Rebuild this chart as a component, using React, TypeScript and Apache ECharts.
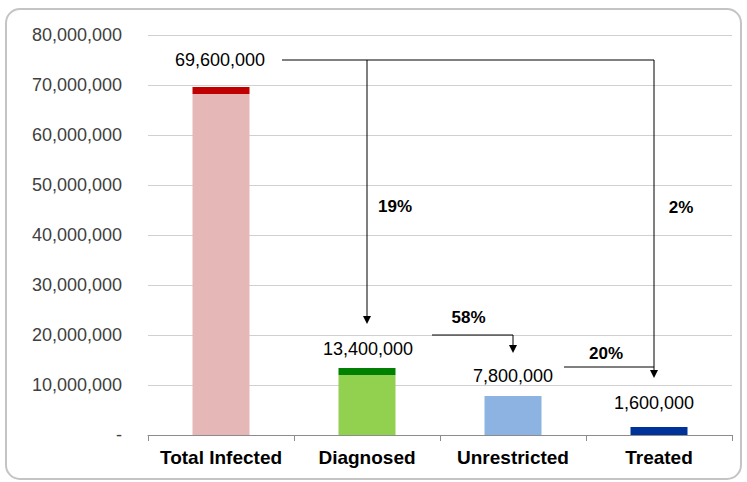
import React, { useEffect, useRef } from "react";
import * as echarts from "echarts";

// ---- data ----
const categories = ["Total Infected", "Diagnosed", "Unrestricted", "Treated"];
const totals = [69600000, 13400000, 7800000, 1600000];
const baseValues = [68200000, 12000000, 7800000, 0];
const capValues = [1400000, 1400000, 0, 1600000];
const stepPercents = ["19%", "58%", "20%"];
const overallPercent = "2%";
const yMin = 0;
const yMax = 80000000;
const yInterval = 10000000;

// ---- styles ----
const baseColors = ["#e5b8b7", "#92d050", "#8db3e2", "#003399"];
const capColors = ["#c00000", "#008000", "#8db3e2", "#003399"];
const labelDistances = [18, 10, 11, 15];
const labelOffsetsX = [-1, 1, 0, -5];
const FONT = "'Liberation Sans', Arial, sans-serif";
const VALUE_FS = 18;

const fmt = (v: number) => (v === 0 ? "-" : v.toLocaleString("en-US"));

export default function App() {
  const ref = useRef<HTMLDivElement>(null);
  useEffect(() => {
    if (!ref.current) return;
    const chart = echarts.init(ref.current, undefined, { renderer: "svg" });
    chart.setOption({
      animation: false,
      grid: { left: 148, right: 15, top: 35, bottom: 47 },
      xAxis: {
        type: "category",
        data: categories,
        axisLine: { lineStyle: { color: "#8c8c8c", width: 1 } },
        axisTick: { show: true, interval: 0, length: 6, lineStyle: { color: "#8c8c8c" } },
        axisLabel: {
          interval: 0,
          color: "#000",
          fontWeight: "bold",
          fontSize: 19,
          fontFamily: FONT,
          margin: 13,
        },
      },
      yAxis: {
        type: "value",
        min: yMin,
        max: yMax,
        interval: yInterval,
        axisLine: { show: false },
        axisTick: { show: false },
        splitLine: { lineStyle: { color: "#d0d0d0", width: 1 } },
        axisLabel: {
          color: "#404040",
          fontSize: 18,
          fontFamily: FONT,
          margin: 26,
          formatter: (v: number) => fmt(v),
        },
      },
      series: [
        {
          type: "bar",
          stack: "s",
          barWidth: 57,
          data: baseValues.map((v, i) => ({ value: v, itemStyle: { color: baseColors[i] } })),
        },
        {
          type: "bar",
          stack: "s",
          barWidth: 57,
          data: capValues.map((v, i) => ({
            value: v,
            itemStyle: { color: capColors[i] },
            label: {
              show: true,
              position: "top",
              distance: labelDistances[i],
              offset: [labelOffsetsX[i], 0],
              formatter: () => fmt(totals[i]),
              color: "#000",
              fontSize: VALUE_FS,
              fontFamily: FONT,
            },
          })),
        },
      ],
    });

    const px = (i: number) => chart.convertToPixel({ gridIndex: 0 }, [categories[i], 0])[0];
    const py = (v: number) => chart.convertToPixel({ gridIndex: 0 }, [categories[0], v])[1];
    const labelCy = (i: number) => py(totals[i]) - labelDistances[i] - VALUE_FS / 2;

    const cTot = px(0);
    const cD = px(1);
    const cU = px(2);
    const xT = px(3) - 5;
    const yTop = labelCy(0);
    const tipD = labelCy(1) - 25;
    const tipU = labelCy(2) - 23;
    const tipT = labelCy(3) - 25;
    const line58 = tipU - 18;
    const line20 = tipT - 11;

    const lineStyle = { stroke: "#000", lineWidth: 1, fill: null };
    const head = (x: number, y: number) => ({
      type: "polygon",
      shape: { points: [[x - 4, y - 8], [x + 4, y - 8], [x, y]] },
      style: { fill: "#000" },
    });
    const pctText = (t: string, x: number, y: number) => ({
      type: "text",
      style: {
        text: t,
        x,
        y,
        align: "center",
        verticalAlign: "middle",
        fill: "#000",
        fontSize: 17,
        fontWeight: "bold",
        fontFamily: FONT,
      },
    });

    chart.setOption({
      graphic: [
        {
          type: "rect",
          shape: { x: 6, y: 9, width: 735, height: 470, r: 14 },
          style: { fill: null, stroke: "#c4c4c4", lineWidth: 2 },
        },
        { type: "polyline", shape: { points: [[cTot + 61, yTop], [xT, yTop], [xT, tipT - 7]] }, style: lineStyle },
        { type: "polyline", shape: { points: [[cD, yTop], [cD, tipD - 7]] }, style: lineStyle },
        head(cD, tipD),
        head(xT, tipT),
        { type: "polyline", shape: { points: [[cD + 65, line58], [cU, line58], [cU, tipU - 7]] }, style: lineStyle },
        head(cU, tipU),
        { type: "polyline", shape: { points: [[cU + 51, line20], [xT, line20]] }, style: lineStyle },
        pctText(stepPercents[0], cD + 28, yTop + (tipD - yTop) * 0.555),
        pctText(stepPercents[1], (cD + 65 + cU) / 2 - 4, line58 - 18),
        pctText(stepPercents[2], (cU + 51 + xT) / 2 - 3, line20 - 14),
        pctText(overallPercent, xT + 27, yTop + (tipD - yTop) * 0.56),
      ],
    });

    return () => chart.dispose();
  }, []);
  return (
    <div
      ref={ref}
      style={{ position: "fixed", left: 0, top: 0, width: 747, height: 482, background: "#fff" }}
    />
  );
}
